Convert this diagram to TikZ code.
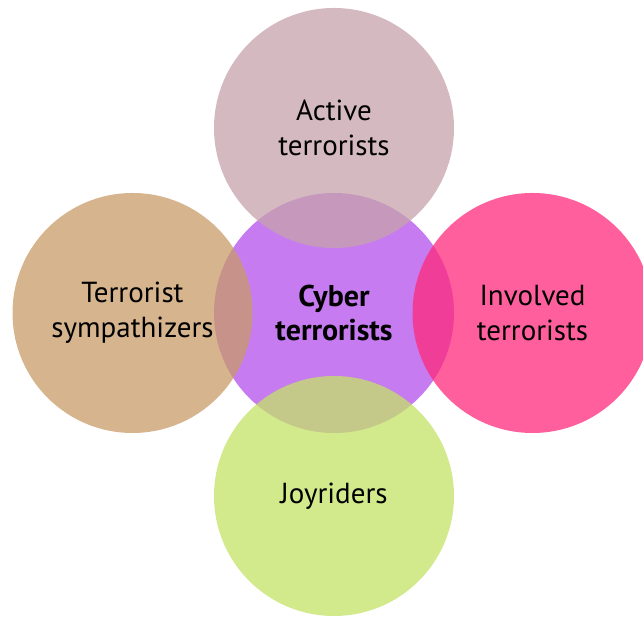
\documentclass[tikz,border=0pt]{standalone}
\usepackage{fontspec}
\setmainfont{PT Sans}
\usetikzlibrary{positioning}
\definecolor{coreFill}{RGB}{199, 123, 240}
\definecolor{activeFill}{RGB}{198, 163, 171}
\definecolor{involvedFill}{RGB}{255, 42, 123}
\definecolor{joyFill}{RGB}{195, 226, 102}
\definecolor{sympFill}{RGB}{200, 155, 104}
\tikzset{
    core_circle/.style={
        circle,
        fill=coreFill,
        minimum size=240pt,
        inner sep=0pt,
        align=center,
        font=\fontsize{30}{34}\selectfont\bfseries
    },
    group_circle/.style={
        circle,
        fill opacity=0.75,
        text opacity=1,
        minimum size=240pt,
        inner sep=0pt,
        align=center,
        font=\fontsize{29}{35}\selectfont
    }
}

\begin{document}
\begin{tikzpicture}[x=1pt, y=1pt, on grid]
        \useasboundingbox (0,0) rectangle (643,617);
        \clip (0,0) rectangle (643,617);

        \node[core_circle] (cyber) at (334,304) {Cyber\\terrorists};

        \node[group_circle, fill=activeFill, above=185pt of cyber] (active) {Active\\terrorists};
        \node[group_circle, fill=sympFill, left=201.5pt of cyber] (symp) {Terrorist\\sympathizers};
        \node[group_circle, fill=involvedFill, right=198.5pt of cyber] (involved) {Involved\\terrorists};
        \node[group_circle, fill=joyFill, below=183pt of cyber] (joy) {Joyriders};
    \end{tikzpicture}
\end{document}
